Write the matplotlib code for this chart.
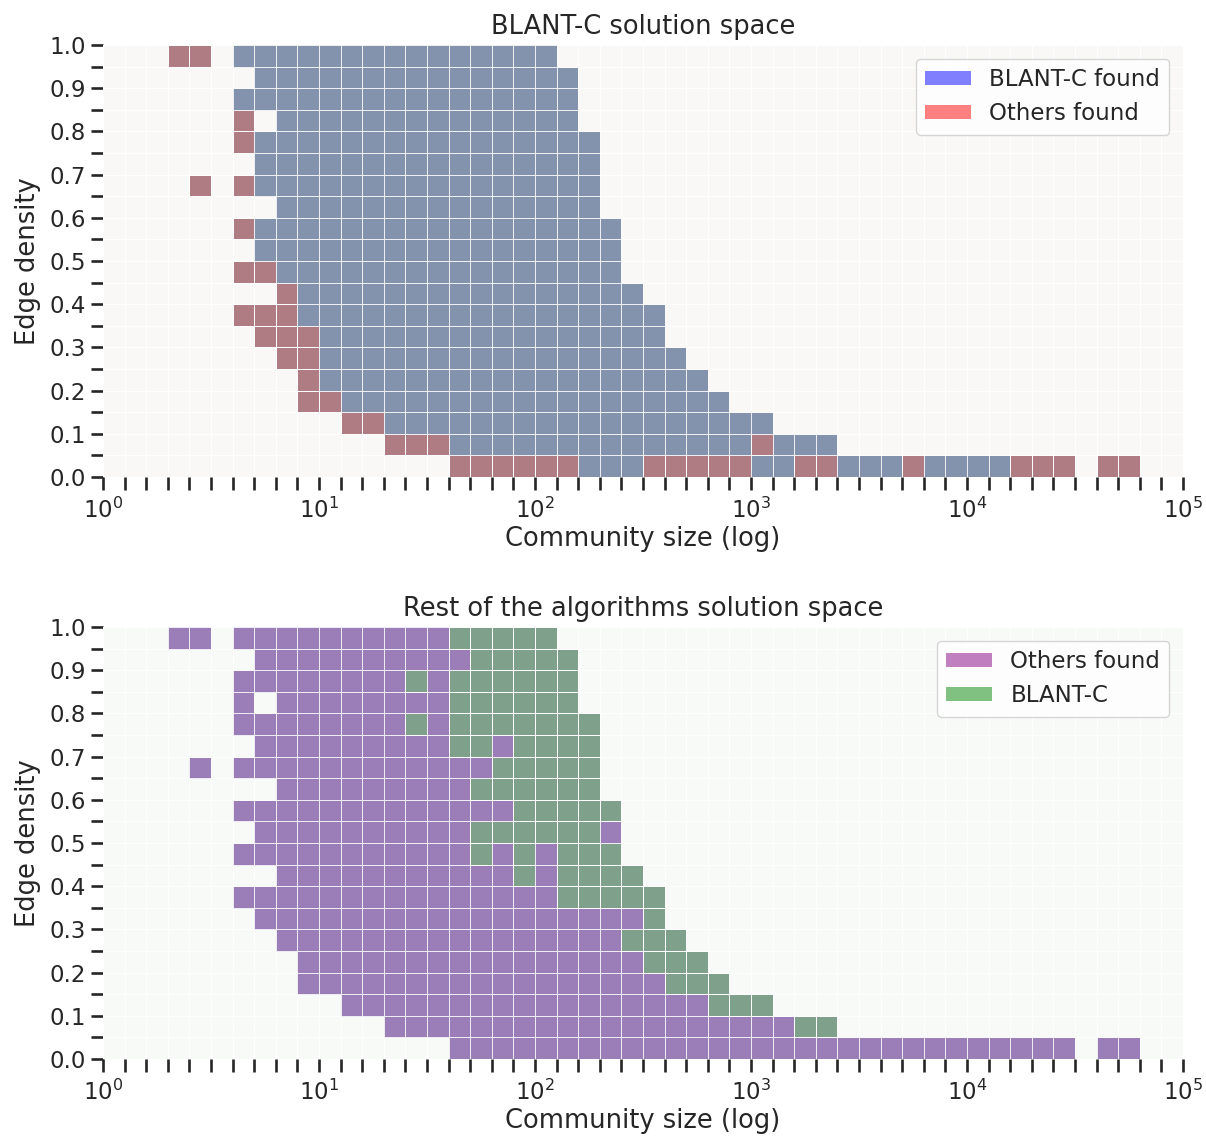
import numpy as np
import matplotlib
matplotlib.use("Agg")
import matplotlib.pyplot as plt
from matplotlib.colors import ListedColormap
from matplotlib.patches import Patch
from matplotlib.ticker import FixedLocator, NullFormatter

# bins: 10 log bins per decade from 10^0 to 10^5, 20 density bins of 0.05
n_xbins = 50
n_ybins = 20

# occupied bins per density row (row 0 = 0.00-0.05), as inclusive runs of size-bin index
blant_runs = [
    [(22, 24), (30, 31), (34, 36), (38, 41)],
    [(16, 29), (31, 33)],
    [(13, 30)],
    [(11, 28)],
    [(10, 27)],
    [(10, 26)],
    [(10, 25)],
    [(9, 25)],
    [(9, 24)],
    [(8, 23)],
    [(7, 23)],
    [(7, 23)],
    [(8, 22)],
    [(7, 22)],
    [(7, 22)],
    [(7, 22)],
    [(8, 21)],
    [(6, 21)],
    [(7, 21)],
    [(6, 20)],
]
others_runs = [
    [(16, 44), (46, 47)],
    [(13, 31)],
    [(11, 27)],
    [(9, 25)],
    [(9, 24)],
    [(8, 23)],
    [(7, 24)],
    [(6, 20)],
    [(8, 18), (20, 20)],
    [(6, 16), (18, 18), (20, 20)],
    [(7, 16), (23, 23)],
    [(6, 18)],
    [(8, 16)],
    [(4, 4), (6, 17)],
    [(7, 15), (18, 18)],
    [(6, 13), (15, 15)],
    [(6, 6), (8, 15)],
    [(6, 13), (15, 15)],
    [(7, 16)],
    [(3, 4), (6, 15)],
]


def runs_to_grid(runs):
    g = np.zeros((n_ybins, n_xbins), dtype=bool)
    for j, row in enumerate(runs):
        for a, b in row:
            g[j, a:b + 1] = True
    return g


blant = runs_to_grid(blant_runs)
others = runs_to_grid(others_runs)

xedges = 10 ** (np.arange(n_xbins + 1) / 10)
yedges = np.linspace(0, 1, n_ybins + 1)

text_c = "#262626"
plt.rcParams["font.family"] = ["DejaVu Sans"]
plt.rcParams["text.color"] = text_c
plt.rcParams["axes.labelcolor"] = text_c
plt.rcParams["xtick.color"] = text_c
plt.rcParams["ytick.color"] = text_c

fig = plt.figure(figsize=(12.06, 11.37), dpi=100)
ax1 = fig.add_axes([0.0854, 0.5805, 0.8956, 0.3799])
ax2 = fig.add_axes([0.0854, 0.0686, 0.8956, 0.3799])


def draw_layer(ax, mask, color):
    data = np.ma.masked_where(~mask, np.ones(mask.shape))
    ax.pcolormesh(xedges, yedges, data, cmap=ListedColormap([color]),
                  vmin=0, vmax=1, edgecolors=(1, 1, 1, 0.85), linewidth=0.7)


def style_axes(ax, bg, title):
    ax.set_facecolor(bg)
    ax.set_xscale("log")
    ax.set_xlim(1, 1e5)
    ax.set_ylim(0, 1)
    for s in ax.spines.values():
        s.set_visible(False)
    ax.xaxis.set_major_locator(FixedLocator(10.0 ** np.arange(6)))
    ax.xaxis.set_minor_locator(FixedLocator(xedges))
    ax.xaxis.set_minor_formatter(NullFormatter())
    ax.yaxis.set_major_locator(FixedLocator(np.round(np.arange(0, 1.01, 0.1), 2)))
    ax.yaxis.set_minor_locator(FixedLocator(yedges))
    ax.set_yticklabels(["%.1f" % v for v in np.arange(0, 1.01, 0.1)])
    ax.tick_params(which="both", length=9, width=1.9, labelsize=16.5)
    ax.tick_params(axis="x", which="both", pad=6)
    ax.grid(which="both", color="white", linewidth=0.6, alpha=0.7)
    ax.set_axisbelow(True)
    ax.set_title(title, fontsize=18.5, pad=8)
    ax.set_xlabel("Community size (log)", fontsize=18.5, labelpad=2)
    ax.set_ylabel("Edge density", fontsize=18.5, labelpad=6)


# top: BLANT-C over the rest
style_axes(ax1, "#f9f8f6", "BLANT-C solution space")
draw_layer(ax1, others & ~blant, "#b07c84")
draw_layer(ax1, blant, "#8493ad")
ax1.legend(handles=[Patch(facecolor="#8080ff", label="BLANT-C found"),
                    Patch(facecolor="#ff8080", label="Others found")],
           loc="upper right", fontsize=16.5, frameon=True, fancybox=True,
           edgecolor="#cccccc", framealpha=0.8, handleheight=0.55,
           borderaxespad=0.6)

# bottom: the rest over BLANT-C
style_axes(ax2, "#f8faf7", "Rest of the algorithms solution space")
draw_layer(ax2, blant & ~others, "#7fa08b")
draw_layer(ax2, others, "#9b7db8")
ax2.legend(handles=[Patch(facecolor="#c080c0", label="Others found"),
                    Patch(facecolor="#80c080", label="BLANT-C")],
           loc="upper right", fontsize=16.5, frameon=True, fancybox=True,
           edgecolor="#cccccc", framealpha=0.8, handleheight=0.55,
           borderaxespad=0.6)

fig.savefig("out.png", dpi=100)
